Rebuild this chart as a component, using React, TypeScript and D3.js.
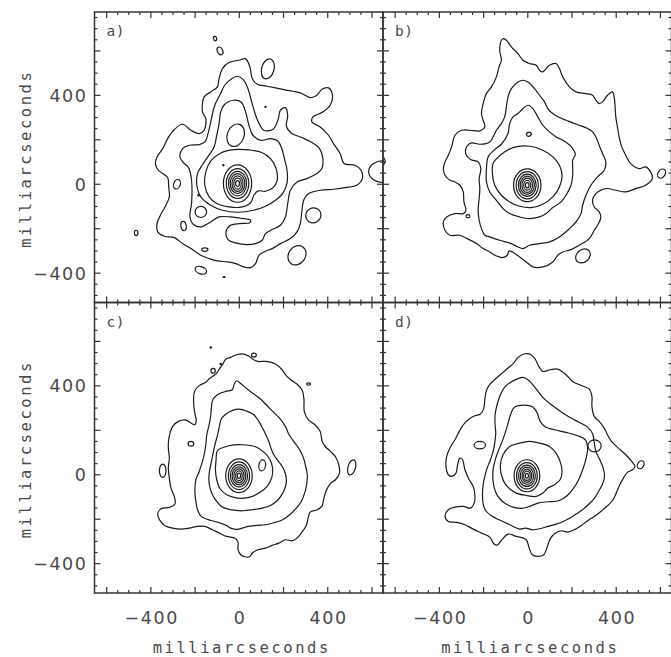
import React from "react";
import * as d3 from "d3";

type Pt = [number, number];
type Island = [number, number, number, number, number]; // cx, cy, rx, ry, rotation(deg)

const panelLabels = ["a)", "b)", "c)", "d)"];
const xTickLabels = [-400, 0, 400];
const yTickLabels = [-400, 0, 400];
const xDomain: [number, number] = [-655, 650];
const yDomain: [number, number] = [-532, 775];
const axisTitle = "milliarcseconds";

// ---------------- panel a ----------------
const aContour1: Pt[] = [[28.5,564],[48,528],[58.5,475.5],[81,450],[126,441],[201,426],[276,411],[321,390],[351,400.5],[373.5,427.5],[403.5,433.5],[421.5,400.5],[411,355.5],[373.5,322.5],[333,303],[328.5,280.5],[366,258],[403.5,220.5],[426,183],[456,138],[474,93],[523.5,85.5],[550.5,63],[556.5,25.5],[531,-4.5],[478.5,-15],[426,-22.5],[366,-27],[313.5,-42],[291,-72],[283.5,-117],[276,-177],[261,-214.5],[231,-244.5],[186,-267],[148.5,-289.5],[111,-304.5],[88.5,-319.5],[73.5,-357],[51,-375],[21,-372],[-16.5,-357],[-54,-349.5],[-99,-345],[-136.5,-334.5],[-174,-319.5],[-219,-289.5],[-256.5,-267],[-294,-240],[-339,-234],[-369,-214.5],[-372,-177],[-357,-139.5],[-336,-102],[-316.5,-57],[-319.5,-12],[-324,30],[-346.5,48],[-366,63],[-379.5,93],[-372,123],[-346.5,160.5],[-324,205.5],[-297,243],[-256.5,270],[-219,243],[-181.5,228],[-159,243],[-151.5,295.5],[-166.5,325.5],[-159,393],[-129,415.5],[-99,438],[-91.5,475.5],[-76.5,520.5],[-46.5,547.5],[-1.5,558]];
const aContour2: Pt[] = [[-9,486],[18,471],[39,430.5],[54,378],[69,325.5],[84,285],[111,243],[153,247.5],[175.5,291],[186,333],[208.5,345],[219,310.5],[213,261],[234,231],[283.5,210],[328.5,187.5],[363,160.5],[378,115.5],[373.5,70.5],[351,48],[306,25.5],[261,10.5],[231,-27],[219,-87],[208.5,-147],[186,-184.5],[148.5,-204],[118.5,-222],[103.5,-252],[73.5,-267],[36,-271.5],[-16.5,-264],[-51,-249],[-60,-214.5],[-42,-186],[-1.5,-177],[48,-172.5],[51,-162],[6,-153],[-39,-147],[-91.5,-147],[-129,-169.5],[-174,-192],[-208.5,-180],[-223.5,-144],[-216,-87],[-216,18],[-229.5,75],[-252,96],[-268.5,123],[-256.5,160.5],[-226.5,175.5],[-181.5,178.5],[-156,190.5],[-139.5,235.5],[-126,295.5],[-111,355.5],[-87,403.5],[-66,445.5],[-36,474]];
const aContour3: Pt[] = [[-24,378],[9,369],[28.5,325.5],[43.5,265.5],[61.5,220.5],[96,198],[141,205.5],[174,195],[190.5,165],[204,115.5],[216,63],[216,6],[198,-39],[163.5,-72],[118.5,-99],[66,-117],[-9,-126],[-76.5,-117],[-129,-94.5],[-174,-57],[-192,-4.5],[-189,48],[-165,90],[-138,130],[-114,168],[-102,220.5],[-91.5,273],[-84,325.5],[-66,360]];
const aContour4: Pt[] = [[-24,156],[43.5,154.5],[99,144],[141,115.5],[166.5,70.5],[171,18],[153,-15],[118.5,-31.5],[85.5,-30],[66,-49.5],[51,-84],[13.5,-102],[-46.5,-102],[-102,-87],[-136.5,-57],[-156,-4.5],[-151.5,55.5],[-129,105],[-84,141]];
const aCoreCenter: Pt = [-8, 3];
const aCoreRings: Pt[] = [[64,84],[51,67],[41,55],[33,45],[25,35],[17,25],[9,13]];
const aIslands: Island[] = [[-109.5,655.5,7,10,-15],[-87,600,12,18,-25],[129,519,28,46,15],[118.5,348,2.5,2.5,0],[-282,0,15,22,20],[-174,-124.5,26,25,0],[-252,-187.5,12,21,-10],[-466.5,-219,8,12,0],[335,-140,35,33,-30],[261,-319.5,38,46,35],[-156,-294,14,8,0],[-174,-387,27,16,20],[-69,-417,5,2,0],[-184.5,-49.5,3,4,0],[-72,85.5,2.5,2.5,0],[-16.5,220.5,38,52,20],[655,57,70,50,0]];

// ---------------- panel b ----------------
const bContour1: Pt[] = [[-109,655.5],[-94,645],[-74.5,618],[-44.5,588],[-22,558],[8,543],[38,535.5],[53,513],[68,505.5],[98,535.5],[128,543],[143,520.5],[158,483],[188,438],[218,415.5],[263,408],[293,400.5],[308,378],[323,363],[338,370.5],[360.5,400.5],[383,415.5],[390.5,393],[395,348],[398,303],[405.5,258],[413,213],[425,168],[443,130.5],[465.5,93],[503,70.5],[533,78],[555.5,55.5],[563,25.5],[533,-4.5],[488,-19.5],[443,-34.5],[398,-27],[353,-19.5],[308,-42],[293,-72],[300.5,-102],[323,-124.5],[330.5,-147],[320,-177],[300.5,-207],[278,-244.5],[233,-274.5],[195.5,-294],[158,-304.5],[135.5,-319.5],[113,-349.5],[68,-372],[23,-372],[-7,-349.5],[-37,-327],[-67,-306],[-85,-300],[-92.5,-319.5],[-115,-330],[-142,-322.5],[-172,-304.5],[-202,-289.5],[-232,-267],[-274,-244.5],[-310,-229.5],[-352,-229.5],[-374.5,-207],[-382,-169.5],[-367,-147],[-329.5,-132],[-292,-132],[-280,-117],[-289,-79.5],[-292,-34.5],[-307,-4.5],[-329.5,10.5],[-352,18],[-374.5,40.5],[-382,70.5],[-374.5,100.5],[-359.5,130.5],[-344.5,168],[-329.5,220.5],[-299.5,243],[-262,243],[-217,240],[-194.5,258],[-202,288],[-209.5,318],[-202,363],[-187,408],[-164.5,438],[-142,483],[-130,528],[-119.5,558],[-127,603],[-119.5,648]];
const bContour2: Pt[] = [[-22,468],[0.5,460.5],[30.5,430.5],[53,400.5],[75.5,370.5],[90.5,340.5],[113,318],[143,300],[173,288],[203,276],[233,265.5],[270.5,250.5],[293,235.5],[308,213],[323,175.5],[338,138],[353,100.5],[345.5,63],[315.5,33],[285.5,-4.5],[263,-49.5],[248,-94.5],[240.5,-132],[218,-169.5],[180.5,-207],[143,-237],[98,-259.5],[53,-267],[8,-274.5],[-22,-289.5],[-44.5,-282],[-74.5,-267],[-127,-252],[-172,-237],[-194.5,-229.5],[-209.5,-199.5],[-220,-162],[-224.5,-117],[-220,-64.5],[-217,-19.5],[-220,25.5],[-212.5,70.5],[-224.5,100.5],[-259,111],[-280,135],[-277,168],[-254.5,186],[-217,180],[-172,190.5],[-157,213],[-142,243],[-119.5,273],[-104.5,303],[-97,348],[-89.5,393],[-74.5,430.5],[-44.5,460.5]];
const bContour3: Pt[] = [[0.5,355.5],[23,340.5],[45.5,303],[68,265.5],[98,235.5],[128,213],[158,198],[180.5,183],[203,160.5],[215,135],[203,108],[203,78],[203,40.5],[195.5,-4.5],[173,-49.5],[150.5,-79.5],[113,-105],[83,-132],[53,-147],[8,-154.5],[-37,-147],[-82,-132],[-112,-109.5],[-142,-72],[-172,-34.5],[-187,10.5],[-187,70.5],[-179.5,123],[-149.5,156],[-119.5,180],[-89.5,228],[-82,273],[-67,303],[-44.5,318],[-22,340.5]];
const bContour4: Pt[] = [[-157,93],[-119.5,135],[-67,165],[8,171],[68,153],[113,123],[143,85.5],[155,40.5],[143,-12],[113,-57],[68,-90],[15.5,-105],[-37,-99],[-82,-79.5],[-119.5,-49.5],[-149.5,-4.5],[-160,48]];
const bCoreCenter: Pt = [-2.5, -4.5];
const bCoreRings: Pt[] = [[62,74],[50,61],[40,50],[32,41],[24,32],[16,22],[8,12]];
const bIslands: Island[] = [[5,225,11,9,-20],[249.5,-322.5,36,28,-40],[605,48,16,22,35],[-271,-144,9,7,0],[-690,105,45,28,0]];

// ---------------- panel c ----------------
const cContour1: Pt[] = [[-39,528],[-12,540],[21,543],[45,532.5],[63,519],[84,510],[123,510],[163.5,498],[193.5,472.5],[211.5,447],[234,426],[264,405],[285,379.5],[292.5,337.5],[294,285],[312,247.5],[342,225],[366,195],[375,150],[390,126],[412.5,105],[435,81],[450,45],[453,7.5],[435,-22.5],[412.5,-39],[394.5,-69],[382.5,-105],[373.5,-142.5],[351,-157.5],[321,-168],[312,-192],[303,-228],[283.5,-258],[261,-285],[238.5,-297],[208.5,-292.5],[178.5,-307.5],[148.5,-318],[118.5,-330],[84,-337.5],[60,-351],[46.5,-369],[25.5,-369],[6,-360],[-6,-336],[-6,-303],[-21,-285],[-57,-277.5],[-90,-262.5],[-121.5,-247.5],[-156,-232.5],[-189,-232.5],[-226.5,-240],[-264,-244.5],[-301.5,-240],[-336,-229.5],[-360,-204],[-369,-174],[-354,-153],[-316.5,-147],[-291,-132],[-294,-97.5],[-309,-60],[-316.5,-15],[-321,30],[-316.5,75],[-321,120],[-319.5,157.5],[-312,192],[-301.5,217.5],[-276,240],[-241.5,246],[-219,232.5],[-201,225],[-195,243],[-202.5,285],[-207,337.5],[-202.5,375],[-180,402],[-150,417],[-136.5,432],[-106.5,453],[-87,480],[-72,502.5],[-60,520.5]];
const cContour2: Pt[] = [[-12,423],[9,408],[36,385.5],[66,363],[96,340.5],[126,310.5],[156,280.5],[186,250.5],[208.5,217.5],[223.5,183],[246,150],[268.5,120],[288,82.5],[298.5,45],[307.5,0],[304.5,-45],[295.5,-82.5],[280.5,-120],[258,-150],[228,-180],[198,-201],[156,-216],[118.5,-225],[81,-228],[39,-232.5],[13.5,-240],[-9,-246],[-39,-240],[-61.5,-226.5],[-99,-213],[-144,-201],[-174,-186],[-189,-157.5],[-196.5,-120],[-201,-75],[-196.5,-22.5],[-181.5,15],[-166.5,60],[-159,90],[-151.5,135],[-147,180],[-136.5,225],[-129,270],[-126,303],[-120,337.5],[-99,360],[-61.5,375],[-31.5,382.5],[-24,405]];
const cContour3: Pt[] = [[-1.5,295.5],[36,285],[66,270],[88.5,240],[105,210],[120,180],[133.5,150],[144,117],[156,90],[174,64.5],[195,36],[208.5,4.5],[213,-30],[205.5,-63],[190.5,-93],[171,-117],[141,-138],[103.5,-150],[58.5,-157.5],[18,-162],[-16.5,-160.5],[-51,-154.5],[-81,-142.5],[-102,-120],[-120,-93],[-132,-60],[-138,-22.5],[-135,15],[-127.5,52.5],[-120,90],[-111,132],[-99,177],[-90,217.5],[-81,252],[-57,276],[-30,289.5]];
const cContour4: Pt[] = [[-99,108],[-46.5,130.5],[13.5,135],[73.5,126],[111,102],[136.5,72],[150,33],[147,-12],[126,-52.5],[88.5,-82.5],[43.5,-102],[-9,-105],[-57,-90],[-87,-63],[-102,-22.5],[-108,22.5],[-105,67.5]];
const cCoreCenter: Pt = [-1.5, -4.5];
const cCoreRings: Pt[] = [[60,76],[48,62],[39,50],[31,40],[23,31],[15,22],[8,12]];
const cIslands: Island[] = [[-129,573,3,3,0],[-84,498,3,3,0],[-118.5,468,10,11,0],[313.5,408,9,5,0],[-219,139.5,13,11,0],[-346.5,18,15,30,0],[508.5,33,17,35,15],[103.5,42,15,25,10],[66,538.5,11,9,0]];

// ---------------- panel d ----------------
const dContour1: Pt[] = [[-14.5,544.5],[15.5,540],[35,517.5],[50,487.5],[68,465],[101,472.5],[135.5,475.5],[173,450],[203,420],[245,400.5],[278,385.5],[290,352.5],[290,307.5],[300.5,262.5],[323,240],[345.5,210],[360.5,180],[378.5,150],[410,120],[443,90],[470,60],[485,37.5],[473,22.5],[450.5,10.5],[432.5,-15],[416,-45],[401,-79.5],[386,-112.5],[360.5,-139.5],[330.5,-165],[300.5,-187.5],[270.5,-207],[240.5,-229.5],[210.5,-247.5],[180.5,-258],[150.5,-252],[120.5,-265.5],[101,-289.5],[87.5,-325.5],[72.5,-360],[45.5,-367.5],[20,-360],[5,-325.5],[-7,-292.5],[-52,-277.5],[-89.5,-267],[-119.5,-295.5],[-139,-316.5],[-154,-310.5],[-172,-280.5],[-209.5,-262.5],[-247,-244.5],[-284.5,-225],[-322,-214.5],[-359.5,-210],[-374.5,-184.5],[-359.5,-157.5],[-329.5,-145.5],[-292,-142.5],[-259,-150],[-242.5,-127.5],[-239.5,-90],[-247,-52.5],[-265,-22.5],[-284.5,22.5],[-295,67.5],[-307,75],[-317.5,45],[-325,7.5],[-344.5,-7.5],[-359.5,0],[-370,37.5],[-367,82.5],[-352,120],[-329.5,157.5],[-310,195],[-295,220.5],[-269.5,247.5],[-239.5,265.5],[-214,273],[-199,300],[-194.5,337.5],[-187,379.5],[-169,409.5],[-142,435],[-112,460.5],[-89.5,480],[-64,502.5],[-44.5,528]];
const dContour2: Pt[] = [[-22,438],[5,424.5],[26,400.5],[50,370.5],[75.5,340.5],[113,310.5],[155,280.5],[195.5,255],[233,235.5],[270.5,214.5],[293,184.5],[300.5,145.5],[308,105],[326,67.5],[341,30],[347,-7.5],[338,-42],[320,-75],[302,-105],[278,-130.5],[251,-154.5],[221,-175.5],[191,-195],[161,-210],[128,-222],[90.5,-232.5],[53,-243],[20,-247.5],[-10,-240],[-37,-244.5],[-67,-232.5],[-97,-217.5],[-130,-202.5],[-164.5,-184.5],[-190,-162],[-202,-130.5],[-205,-90],[-202,-45],[-194.5,-7.5],[-184,30],[-169,67.5],[-157,105],[-149.5,142.5],[-145,187.5],[-148,225],[-148,270],[-139,315],[-124,360],[-104.5,394.5],[-79,415.5],[-49,430.5]];
const dContour3: Pt[] = [[-59.5,304.5],[-14.5,313.5],[23,304.5],[42.5,277.5],[56,240],[80,214.5],[120.5,202.5],[173,190.5],[225.5,175.5],[260,157.5],[270.5,120],[263,70.5],[248,22.5],[230,-22.5],[207.5,-60],[177.5,-94.5],[140,-117],[90.5,-121.5],[45.5,-127.5],[8,-142.5],[-29.5,-151.5],[-67,-145.5],[-100,-130.5],[-127,-108],[-146.5,-75],[-157,-30],[-157,22.5],[-146.5,70.5],[-130,115.5],[-112,160.5],[-97,205.5],[-85,247.5],[-74.5,280.5]];
const dContour4: Pt[] = [[-112,90],[-82,127.5],[-37,142.5],[8,150],[53,142.5],[98,127.5],[128,97.5],[146,60],[155,15],[146,-22.5],[120.5,-45],[90.5,-60],[68,-82.5],[38,-97.5],[-7,-93],[-52,-82.5],[-82,-63],[-104.5,-37.5],[-119.5,0],[-124,45]];
const dCoreCenter: Pt = [-4, -4.5];
const dCoreRings: Pt[] = [[58,72],[47,59],[38,48],[30,39],[22,30],[15,21],[7,11]];
const dIslands: Island[] = [[-217,133.5,26,17,0],[302,130,30,27,0],[510.5,45,14,19,30]];

const panelContours: Pt[][][] = [
  [aContour1, aContour2, aContour3, aContour4],
  [bContour1, bContour2, bContour3, bContour4],
  [cContour1, cContour2, cContour3, cContour4],
  [dContour1, dContour2, dContour3, dContour4],
];
const panelCores: Pt[] = [aCoreCenter, bCoreCenter, cCoreCenter, dCoreCenter];
const panelRings: Pt[][] = [aCoreRings, bCoreRings, cCoreRings, dCoreRings];
const panelIslands: Island[][] = [aIslands, bIslands, cIslands, dIslands];

// layout (pixels)
const GRID_LEFT = 94.5;
const GRID_TOP = 12;
const PANEL_W = 288.5;
const PANEL_H = 290.5;
const LINE = "#1a1a1a";
const AXIS = "#333";
const TEXT = "#4a4a4a";

const fmt = (v: number) => (v < 0 ? "\u2212" + Math.abs(v) : String(v));

function Panel({ idx }: { idx: number }) {
  const col = idx % 2;
  const row = Math.floor(idx / 2);
  const x0 = GRID_LEFT + col * PANEL_W;
  const y0 = GRID_TOP + row * PANEL_H;
  const x = d3.scaleLinear().domain(xDomain).range([x0, x0 + PANEL_W]);
  const y = d3.scaleLinear().domain(yDomain).range([y0 + PANEL_H, y0]);
  const kx = x(1) - x(0);
  const ky = y(0) - y(1);
  const line = d3
    .line<Pt>()
    .x((d) => x(d[0]))
    .y((d) => y(d[1]))
    .curve(d3.curveCatmullRomClosed.alpha(0.5));
  const clipId = `clip-${idx}`;
  const xTicks = d3.range(-650, 651, 50).filter((v) => v > xDomain[0] + 8 && v < xDomain[1] - 8);
  const yTicks = d3.range(-500, 751, 50).filter((v) => v > yDomain[0] + 8 && v < yDomain[1] - 8);
  const major = (v: number) => v % 200 === 0;
  const core = panelCores[idx];
  return (
    <g>
      <defs>
        <clipPath id={clipId}>
          <rect x={x0} y={y0} width={PANEL_W} height={PANEL_H} />
        </clipPath>
      </defs>
      <g clipPath={`url(#${clipId})`} fill="none" stroke={LINE} strokeWidth={1.2}>
        {panelContours[idx].map((c, i) => (
          <path key={`c${i}`} d={line(c) || ""} />
        ))}
        {panelRings[idx].map((r, i) => (
          <ellipse key={`r${i}`} cx={x(core[0])} cy={y(core[1])} rx={r[0] * kx} ry={r[1] * ky} />
        ))}
        {panelIslands[idx].map((s, i) => (
          <ellipse
            key={`s${i}`}
            cx={x(s[0])}
            cy={y(s[1])}
            rx={s[2] * kx}
            ry={s[3] * ky}
            transform={`rotate(${s[4]} ${x(s[0])} ${y(s[1])})`}
          />
        ))}
      </g>
      <g stroke={AXIS} strokeWidth={1.2}>
        {xTicks.map((v) => {
          const L = major(v) ? 6 : 3;
          return (
            <g key={`xt${v}`}>
              <line x1={x(v)} x2={x(v)} y1={y0} y2={y0 + L} />
              <line x1={x(v)} x2={x(v)} y1={y0 + PANEL_H} y2={y0 + PANEL_H - L} />
            </g>
          );
        })}
        {yTicks.map((v) => {
          const L = major(v) ? 6 : 3;
          return (
            <g key={`yt${v}`}>
              <line y1={y(v)} y2={y(v)} x1={x0} x2={x0 + L} />
              <line y1={y(v)} y2={y(v)} x1={x0 + PANEL_W} x2={x0 + PANEL_W - L} />
            </g>
          );
        })}
      </g>
      <rect x={x0} y={y0} width={PANEL_W} height={PANEL_H} fill="none" stroke={AXIS} strokeWidth={1.5} />
      <text
        x={x0 + 12}
        y={y0 + 24}
        fontFamily="'DejaVu Sans Mono', monospace"
        fontSize={14.5}
        letterSpacing={0.5}
        fill={TEXT}
      >
        {panelLabels[idx]}
      </text>
      {row === 1 &&
        xTickLabels.map((v) => (
          <text
            key={`xl${v}`}
            x={x(v) + 0.8}
            y={623.5}
            textAnchor="middle"
            fontFamily="'DejaVu Sans', sans-serif"
            fontSize={17.5}
            letterSpacing={1.6}
            fill={TEXT}
          >
            {fmt(v)}
          </text>
        ))}
      {row === 1 && (
        <text
          x={x0 + PANEL_W / 2 + 3}
          y={653.3}
          textAnchor="middle"
          fontFamily="'DejaVu Sans Mono', monospace"
          fontSize={15.5}
          letterSpacing={2.55}
          fill={TEXT}
        >
          {axisTitle}
        </text>
      )}
      {col === 0 &&
        yTickLabels.map((v) => (
          <text
            key={`yl${v}`}
            x={86 + 1.6}
            y={y(v) + 6.5}
            textAnchor="end"
            fontFamily="'DejaVu Sans', sans-serif"
            fontSize={17.5}
            letterSpacing={1.6}
            fill={TEXT}
          >
            {fmt(v)}
          </text>
        ))}
      {col === 0 && (
        <text
          transform={`translate(30.5, ${y0 + PANEL_H / 2 + 1.5}) rotate(-90)`}
          textAnchor="middle"
          fontFamily="'DejaVu Sans Mono', monospace"
          fontSize={15.5}
          letterSpacing={2.55}
          fill={TEXT}
        >
          {axisTitle}
        </text>
      )}
    </g>
  );
}

export default function App() {
  return (
    <svg
      width={671}
      height={657}
      viewBox="0 0 671 657"
      style={{ position: "absolute", left: 0, top: 0, display: "block", background: "#fff" }}
    >
      <rect x={0} y={0} width={671} height={657} fill="#fff" />
      {[0, 1, 2, 3].map((i) => (
        <Panel key={i} idx={i} />
      ))}
    </svg>
  );
}
